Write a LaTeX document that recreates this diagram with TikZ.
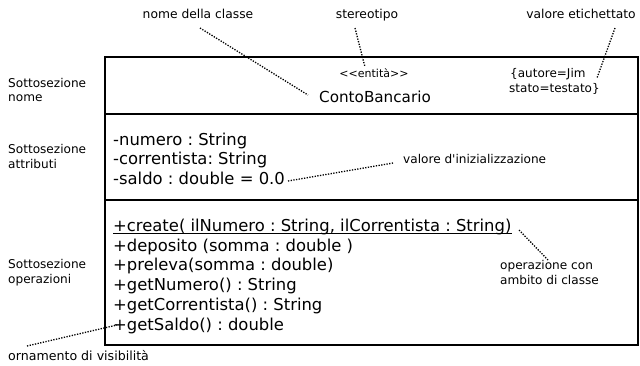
\documentclass[tikz,border=0pt]{standalone}
\usepackage{fontspec}
\setmainfont{DejaVu Sans}[Ligatures=TeXOff]
\frenchspacing
\begin{document}
\begin{tikzpicture}[x=1pt,y=-1pt,
  lbl/.style={inner sep=0pt,anchor=base west,font=\fontsize{12.1}{14}\selectfont},
  toplbl/.style={inner sep=0pt,anchor=base,font=\fontsize{12.3}{14}\selectfont},
  member/.style={inner sep=0pt,anchor=base west,font=\fontsize{16.4}{19.6}\selectfont},
  boxline/.style={line width=1.4pt},
  note/.style={line width=1.3pt,dash pattern=on 1.3pt off 1.4pt}]
\useasboundingbox (0,0) rectangle (640,365);
% class box
\coordinate (tl) at (105,57);
\coordinate (br) at (638,345);
\coordinate (d1l) at (105,114);
\coordinate (d1r) at (638,114);
\coordinate (d2l) at (105,200);
\coordinate (d2r) at (638,200);
\draw[boxline] (tl) rectangle (br);
\draw[boxline] (d1l) -- (d1r);
\draw[boxline] (d2l) -- (d2r);
% top labels
\node[toplbl] (lnome) at (198,18.5) {nome della classe};
\node[toplbl] (lstereo) at (367,18.5) {stereotipo};
\node[toplbl] (lvalore) at (581,18.5) {valore etichettato};
% name compartment
\node[inner sep=0pt,anchor=base,font=\fontsize{11}{13}\selectfont] (stereo) at (374,77) {<<entità>>};
\node[inner sep=0pt,anchor=base,font=\fontsize{15.2}{18}\selectfont] (cname) at (375,102) {ContoBancario};
\node[inner sep=0pt,anchor=base west,font=\fontsize{12}{14}\selectfont] (tag1) at (510,77) {\{autore=Jim};
\node[inner sep=0pt,anchor=base west,font=\fontsize{12}{14}\selectfont] (tag2) at (509,92) {stato=testato\}};
% left labels
\node[lbl] (s1a) at (8,87) {Sottosezione};
\node[lbl] (s1b) at (8,101) {nome};
\node[lbl] (s2a) at (8,153) {Sottosezione};
\node[lbl] (s2b) at (8,168) {attributi};
\node[lbl] (s3a) at (8,268) {Sottosezione};
\node[lbl] (s3b) at (8,283) {operazioni};
% attributes
\node[member] (a1) at (113,145) {-numero : String};
\node[member] (a2) at (113,164.5) {-correntista: String};
\node[member] (a3) at (113,184) {-saldo : double = 0.0};
\node[lbl] (linit) at (403,163) {valore d'inizializzazione};
% operations
\node[member] (o1) at (113,231) {+create( ilNumero : String, ilCorrentista : String)};
\draw[line width=1.2pt] ([yshift=-2.6pt]o1.base west) -- ([yshift=-2.6pt]o1.base east);
\node[member] (o2) at (113,251) {+deposito (somma : double )};
\node[member] (o3) at (113,270.5) {+preleva(somma : double)};
\node[member] (o4) at (113,290) {+getNumero() : String};
\node[member] (o5) at (113,310) {+getCorrentista() : String};
\node[member] (o6) at (113,330) {+getSaldo() : double};
\node[lbl] (lop1) at (500,269) {operazione con};
\node[lbl] (lop2) at (500,284) {ambito di classe};
\node[lbl,font=\fontsize{12.6}{14}\selectfont] (lvis) at (8,360) {ornamento di visibilità};
% annotation connectors
\coordinate (n1) at (200,28);
\coordinate (n2) at (308,95);
\coordinate (st1) at (355,28);
\coordinate (st2) at (365,67);
\coordinate (v1) at (615,28);
\coordinate (v2) at (597,78);
\coordinate (i1) at (288,181);
\coordinate (i2) at (393,163);
\coordinate (c1) at (519,230);
\coordinate (c2) at (548,260);
\coordinate (vis1) at (27,346);
\coordinate (vis2) at (117,325);
\draw[note] (n1) -- (n2);
\draw[note] (st1) -- (st2);
\draw[note] (v1) -- (v2);
\draw[note] (i1) -- (i2);
\draw[note] (c1) -- (c2);
\draw[note] (vis1) -- (vis2);
\end{tikzpicture}
\end{document}
